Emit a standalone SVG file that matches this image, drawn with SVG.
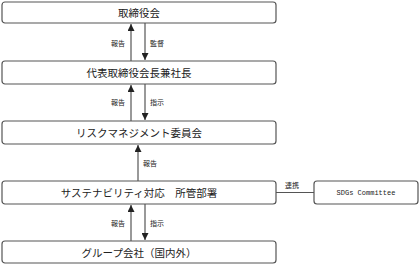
<svg xmlns="http://www.w3.org/2000/svg" width="420" height="265" viewBox="0 0 420 265">
<style>
.box{fill:#fff;stroke:#555;stroke-width:1.2}
.t{font-family:"Noto Sans CJK JP","Liberation Sans",sans-serif;font-size:10.5px;fill:#222;text-anchor:middle;dominant-baseline:central}
.s{font-family:"Noto Sans CJK JP","Liberation Sans",sans-serif;font-size:7px;fill:#222;dominant-baseline:central}
.e{font-family:"Liberation Mono",monospace;font-size:7px;fill:#222;text-anchor:middle;dominant-baseline:central}
.ln{stroke:#555;stroke-width:1.2;fill:none}
</style>
<defs>
<marker id="ah" viewBox="0 0 10 10" refX="10" refY="5" markerWidth="7" markerHeight="7" markerUnits="userSpaceOnUse" orient="auto">
<path d="M0,0 L10,5 L0,10 z" fill="#222"/>
</marker>
</defs>
<g id="connectors">
<line class="ln" x1="131" y1="61" x2="131" y2="24" marker-end="url(#ah)"/>
<line class="ln" x1="145" y1="23" x2="145" y2="60" marker-end="url(#ah)"/>
<line class="ln" x1="131" y1="121" x2="131" y2="85" marker-end="url(#ah)"/>
<line class="ln" x1="145" y1="84" x2="145" y2="120" marker-end="url(#ah)"/>
<line class="ln" x1="138" y1="181" x2="138" y2="145" marker-end="url(#ah)"/>
<line class="ln" x1="131" y1="241" x2="131" y2="205" marker-end="url(#ah)"/>
<line class="ln" x1="145" y1="204" x2="145" y2="240" marker-end="url(#ah)"/>
<line class="ln" x1="276" y1="192.5" x2="314" y2="192.5"/>
<text class="s" x="125" y="43" text-anchor="end">報告</text>
<text class="s" x="150" y="43">監督</text>
<text class="s" x="125" y="102" text-anchor="end">報告</text>
<text class="s" x="150" y="102">指示</text>
<text class="s" x="143" y="163">報告</text>
<text class="s" x="125" y="223" text-anchor="end">報告</text>
<text class="s" x="150" y="223">指示</text>
<text class="s" x="292" y="185" text-anchor="middle">連携</text>
</g>
<g id="n1"><rect class="box" x="2" y="2" width="274" height="21" rx="3"/><text class="t" x="139" y="12.5">取締役会</text></g>
<g id="n2"><rect class="box" x="2" y="61" width="274" height="23" rx="3"/><text class="t" x="139" y="72.5">代表取締役会長兼社長</text></g>
<g id="n3"><rect class="box" x="2" y="121" width="274" height="23" rx="3"/><text class="t" x="139" y="132.5">リスクマネジメント委員会</text></g>
<g id="n4"><rect class="box" x="2" y="181" width="274" height="23" rx="3"/><text class="t" x="139" y="192.5">サステナビリティ対応　所管部署</text></g>
<g id="n5"><rect class="box" x="2" y="241" width="274" height="22" rx="3"/><text class="t" x="139" y="252">グループ会社（国内外）</text></g>
<g id="n6"><rect class="box" x="314" y="181" width="104" height="23" rx="3"/><text class="e" x="366" y="192.5">SDGs Committee</text></g>
</svg>
